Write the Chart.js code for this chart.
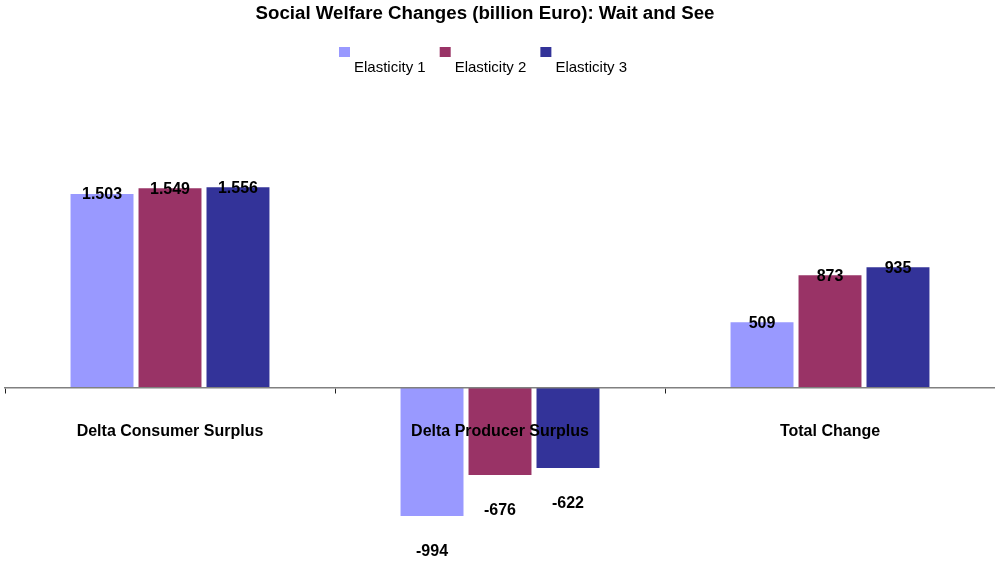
<!DOCTYPE html>
<html lang="en">
<head>
<meta charset="UTF-8">
<title>Social Welfare Changes (billion Euro): Wait and See</title>
<script src="https://cdn.jsdelivr.net/npm/chart.js@4.4.0/dist/chart.umd.min.js"></script>
<style>
    html, body {
        margin: 0;
        padding: 0;
        background: #fff;
    }
    #wrap {
        width: 995px;
        height: 561px;
    }
</style>
</head>
<body>
<div id="wrap"><canvas id="welfareChart"></canvas></div>
<script>
    const chartTitle = 'Social Welfare Changes (billion Euro): Wait and See';
    const categories = ['Delta Consumer Surplus', 'Delta Producer Surplus', 'Total Change'];
    const seriesNames = ['Elasticity 1', 'Elasticity 2', 'Elasticity 3'];
    const elasticity1 = [1503, -994, 509];
    const elasticity2 = [1549, -676, 873];
    const elasticity3 = [1556, -622, 935];
    const seriesColors = ['#9999ff', '#993366', '#333399'];

    // German style thousands separator: 1503 -> "1.503"
    function formatValue(v) {
        const sign = v < 0 ? '-' : '';
        const s = String(Math.abs(Math.round(v)));
        return sign + s.replace(/\B(?=(\d{3})+(?!\d))/g, '.');
    }

    // title + legend (legend box sits above-left of its text, like the original)
    const headerPlugin = {
        id: 'header',
        afterDraw(chart) {
            const ctx = chart.ctx;
            ctx.save();
            ctx.fillStyle = '#000';
            ctx.font = 'bold 18.7px Arial';
            ctx.textAlign = 'center';
            ctx.textBaseline = 'middle';
            ctx.fillText(chartTitle, 485, 14);

            ctx.font = '15px Arial';
            ctx.textAlign = 'left';
            let x = 339;
            chart.data.datasets.forEach(ds => {
                ctx.fillStyle = ds.backgroundColor;
                ctx.fillRect(x, 47, 11, 10);
                ctx.fillStyle = '#000';
                ctx.fillText(ds.label, x + 15, 68);
                x += 15 + ctx.measureText(ds.label).width + 14;
            });
            ctx.restore();
        }
    };

    // value labels on the bar ends
    const valueLabels = {
        id: 'valueLabels',
        afterDatasetsDraw(chart) {
            const ctx = chart.ctx;
            ctx.save();
            ctx.fillStyle = '#000';
            ctx.font = 'bold 16px Arial';
            ctx.textAlign = 'center';
            ctx.textBaseline = 'middle';
            chart.data.datasets.forEach((ds, i) => {
                chart.getDatasetMeta(i).data.forEach((bar, j) => {
                    const v = ds.data[j];
                    const y = v >= 0 ? bar.y + 1 : bar.y + 36;
                    ctx.fillText(formatValue(v), bar.x, y);
                });
            });
            ctx.restore();
        }
    };

    const seriesData = [elasticity1, elasticity2, elasticity3];

    new Chart(document.getElementById('welfareChart'), {
        type: 'bar',
        data: {
            labels: categories,
            datasets: seriesNames.map((name, i) => ({
                label: name,
                data: seriesData[i],
                backgroundColor: seriesColors[i],
                borderWidth: 0,
                categoryPercentage: 0.618,
                barPercentage: 0.926
            }))
        },
        options: {
            responsive: true,
            maintainAspectRatio: false,
            animation: false,
            layout: {
                padding: { top: 130, left: 5, right: 0, bottom: 12 }
            },
            plugins: {
                legend: { display: false },
                title: { display: false },
                tooltip: { enabled: false }
            },
            scales: {
                x: {
                    position: { y: 0 },
                    offset: true,
                    grid: {
                        display: true,
                        offset: true,
                        drawOnChartArea: false,
                        drawTicks: true,
                        tickLength: 5,
                        color: '#222',
                        z: 1
                    },
                    border: { display: true, color: '#808080', width: 1.5, z: 1 },
                    ticks: {
                        color: '#000',
                        font: { family: 'Arial', size: 16, weight: 'bold' },
                        padding: 29,
                        maxRotation: 0,
                        autoSkip: false,
                        z: 1
                    }
                },
                y: {
                    display: false,
                    min: -1250,
                    max: 2000
                }
            }
        },
        plugins: [headerPlugin, valueLabels]
    });
</script>
</body>
</html>
